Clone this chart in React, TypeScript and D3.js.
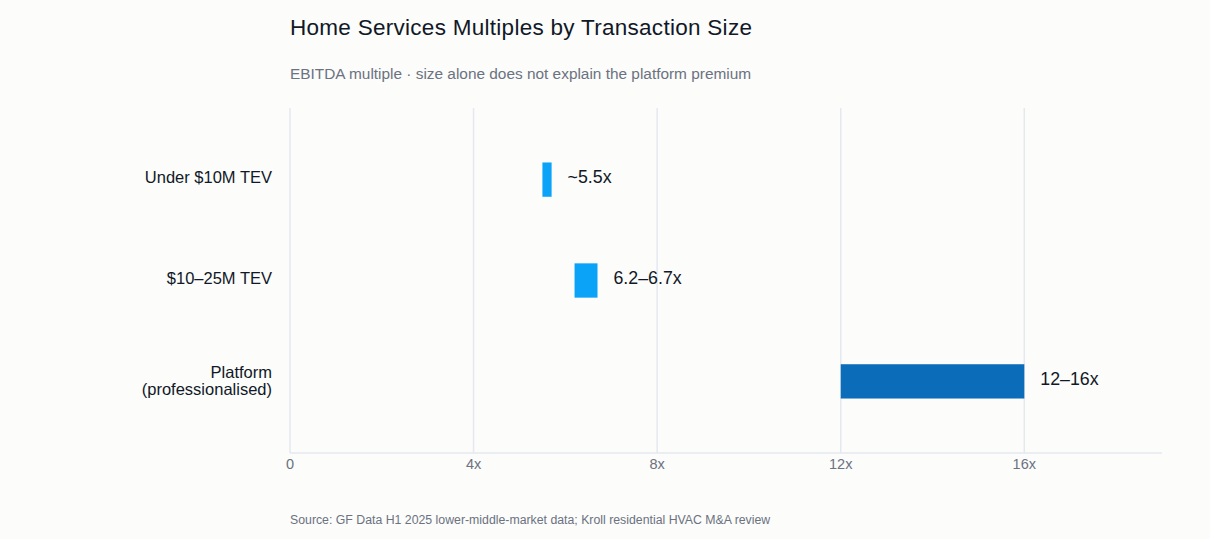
import React from "react";
import * as d3 from "d3";

const categories = ["Under $10M TEV", "$10–25M TEV", "Platform\n(professionalised)"];
const lowValues = [5.5, 6.2, 12];
const highValues = [5.7, 6.7, 16];
const valueLabels = ["~5.5x", "6.2–6.7x", "12–16x"];
const barColors = ["#0aa3f8", "#0aa3f8", "#0b6dba"];
const tickValues = [0, 4, 8, 12, 16];
const tickLabels = ["0", "4x", "8x", "12x", "16x"];

const W = 1210;
const H = 539;
const margin = { left: 290, right: 48, top: 108, bottom: 86 };
const FONT = "'Liberation Sans', Arial, Helvetica, sans-serif";

export default function App() {
  const x = d3.scaleLinear().domain([0, 19]).range([margin.left, W - margin.right]);
  const y = d3
    .scaleBand<string>()
    .domain(categories)
    .range([margin.top, H - margin.bottom])
    .paddingInner(0.66)
    .paddingOuter(0.54);
  const bottom = H - margin.bottom;

  return (
    <div style={{ position: "fixed", left: 0, top: 0 }}>
      <svg width={W} height={H} style={{ display: "block", background: "#fcfcfb", fontFamily: FONT }}>
        <rect x={0} y={0} width={W} height={H} fill="#fcfcfb" />
        <text x={290} y={35} fontSize={22.5} letterSpacing={0.28} fill="#111827">
          Home Services Multiples by Transaction Size
        </text>
        <text x={290} y={79} fontSize={15.4} fill="#6b7280">
          EBITDA multiple · size alone does not explain the platform premium
        </text>

        {tickValues.map((t) => (
          <line key={"g" + t} x1={x(t)} x2={x(t)} y1={margin.top} y2={bottom} stroke="#e5e8ef" strokeWidth={1.5} />
        ))}
        <line x1={x(0)} x2={x(19)} y1={bottom} y2={bottom} stroke="#e5e8ef" strokeWidth={1.5} />
        {tickValues.map((t, i) => (
          <text key={"t" + t} x={x(t)} y={469} fontSize={14.5} fill="#6b7280" textAnchor="middle">
            {tickLabels[i]}
          </text>
        ))}

        {categories.map((c, i) => {
          const y0 = y(c)!;
          const bw = y.bandwidth();
          const cy = y0 + bw / 2;
          const lines = c.split("\n");
          const lh = 17;
          const firstY = cy - ((lines.length - 1) * lh) / 2;
          const shift = lines.length > 1 ? 5.3 : 3.8;
          return (
            <g key={c}>
              <rect x={x(lowValues[i])} y={y0} width={x(highValues[i]) - x(lowValues[i])} height={bw} fill={barColors[i]} />
              <text x={x(highValues[i]) + 16} y={cy + 3.8} fontSize={17.8} fill="#111827">
                {valueLabels[i]}
              </text>
              <text x={272} textAnchor="end" fontSize={16.5} fill="#111827">
                {lines.map((l, k) => (
                  <tspan key={k} x={272} y={firstY + k * lh + shift}>
                    {l}
                  </tspan>
                ))}
              </text>
            </g>
          );
        })}

        <text x={290} y={524} fontSize={12.3} fill="#6b7280">
          Source: GF Data H1 2025 lower-middle-market data; Kroll residential HVAC M&amp;A review
        </text>
      </svg>
    </div>
  );
}
